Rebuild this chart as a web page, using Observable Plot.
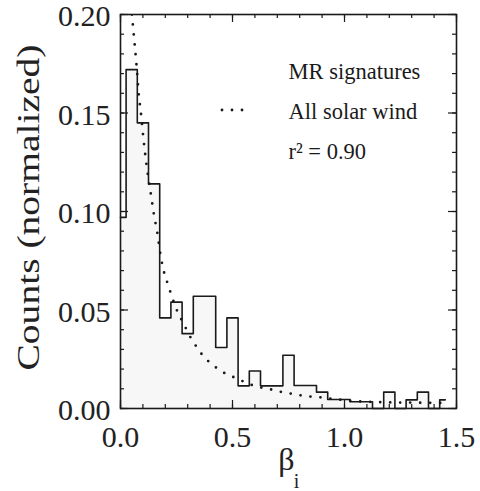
<!DOCTYPE html>
<html><head><meta charset="utf-8">
<script src="https://cdn.jsdelivr.net/npm/d3@7"></script>
<script src="https://cdn.jsdelivr.net/npm/@observablehq/plot@0.6"></script>
<style>body{margin:0;background:#fff}svg{display:block}</style>
</head><body><div id="chart"></div>
<script>
// MR signatures histogram (bin centres, normalized counts)
const binCenters = [0.00,0.05,0.10,0.15,0.20,0.25,0.30,0.35,0.40,0.45,0.50,0.55,0.60,0.65,0.70,0.75,0.80,0.85,0.90,0.95,1.00,1.05,1.10,1.15,1.20,1.25,1.30,1.35,1.40,1.45];
const mrCounts   = [0.097,0.172,0.145,0.114,0.046,0.054,0.038,0.057,0.057,0.031,0.046,0.0115,0.019,0.0115,0.0115,0.027,0.0117,0.0117,0.0083,0.0046,0.0046,0.0034,0.0034,0,0.0083,0,0.0044,0.0083,0,0.0044];
// All solar wind distribution (dotted)
const windBeta   = [0.051,0.059,0.071,0.082,0.092,0.101,0.116,0.123,0.136,0.147,0.166,0.178,0.197,0.210,0.224,0.255,0.274,0.295,0.316,0.341,0.366,0.397,0.433,0.470,0.510,0.549,0.590,0.633,0.678,0.722,0.764,0.808,0.853,0.898,0.942,0.987,1.031,1.068,1.110,1.157,1.200,1.250,1.300,1.350,1.390,1.430];
const windCounts = [0.200,0.190,0.175,0.159,0.149,0.1386,0.1237,0.118,0.1085,0.100,0.088,0.0785,0.068,0.0636,0.0587,0.049,0.0447,0.040,0.0354,0.0311,0.0271,0.0235,0.0203,0.0176,0.0157,0.0137,0.0118,0.0105,0.0095,0.0083,0.0075,0.0066,0.0060,0.0056,0.0049,0.0044,0.0038,0.0036,0.0034,0.0032,0.0031,0.0030,0.0030,0.0029,0.0029,0.0028];
const xTickLabels = [0, 0.5, 1.0, 1.5];
const yTickLabels = [0, 0.05, 0.10, 0.15, 0.20];
const xMinorTicks = d3.range(16).map(i => i / 10);
const yMinorTicks = d3.range(21).map(i => i / 100);
const legendLabels = ["MR signatures", "All solar wind", "r\u00B2 = 0.90"];
const xTitle = "\u03B2", xTitleSub = "i";
const yTitle = "Counts (normalized)";

const mr = binCenters.map((b, i) => ({b, c: mrCounts[i]}));
const wind = windBeta.map((b, i) => ({b, c: windCounts[i]}));

const W = 480, H = 491, mL = 120, mR = 24, mT = 14, mB = 83;
const fw = W - mL - mR, fh = H - mT - mB;
const font = "Liberation Serif, Times New Roman, serif";
const ink = "#1a1a1a";

const legendMarks = legendLabels.map((lab, i) =>
  Plot.text([lab], {text: d => d, frameAnchor: "top-left", textAnchor: "start", lineAnchor: "bottom",
    dx: 168, dy: 64 + 40 * i, fontSize: 22.5, fill: ink}));

const chart = Plot.plot({
  width: W, height: H,
  marginLeft: mL, marginRight: mR, marginTop: mT, marginBottom: mB,
  style: {fontFamily: font, background: "#fff", color: "#000"},
  x: {domain: [0, 1.5], axis: null},
  y: {domain: [0, 0.2], axis: null},
  marks: [
    Plot.areaY(mr, {x: "b", y: "c", curve: "step", fill: "#f7f7f7"}),
    Plot.lineY(mr, {x: "b", y: "c", curve: "step", stroke: ink, strokeWidth: 1.6}),
    Plot.line(wind, {x: "b", y: "c", curve: "monotone-x", stroke: ink, strokeWidth: 2.8,
      strokeDasharray: "0,10", strokeLinecap: "round", clip: true}),
    // inward ticks, all four sides
    Plot.tickX(xMinorTicks, {x: d => d, insetTop: fh - 4, stroke: ink, strokeWidth: 1.2}),
    Plot.tickX(xMinorTicks, {x: d => d, insetBottom: fh - 4, stroke: ink, strokeWidth: 1.2}),
    Plot.tickX(xTickLabels, {x: d => d, insetTop: fh - 8, stroke: ink, strokeWidth: 1.2}),
    Plot.tickX(xTickLabels, {x: d => d, insetBottom: fh - 8, stroke: ink, strokeWidth: 1.2}),
    Plot.tickY(yMinorTicks, {y: d => d, insetRight: fw - 4, stroke: ink, strokeWidth: 1.2}),
    Plot.tickY(yMinorTicks, {y: d => d, insetLeft: fw - 4, stroke: ink, strokeWidth: 1.2}),
    Plot.tickY(yTickLabels, {y: d => d, insetRight: fw - 8, stroke: ink, strokeWidth: 1.2}),
    Plot.tickY(yTickLabels, {y: d => d, insetLeft: fw - 8, stroke: ink, strokeWidth: 1.2}),
    Plot.frame({stroke: ink, strokeWidth: 1.6}),
    Plot.axisX(xTickLabels, {tickSize: 0, tickPadding: 17, tickFormat: d3.format(".1f"), fontSize: 30, label: null, fill: "#222"}),
    Plot.axisY(yTickLabels, {tickSize: 0, tickPadding: 10, dy: 2, tickFormat: d3.format(".2f"), fontSize: 30, label: null, fill: "#222"}),
    Plot.text([yTitle], {text: d => d, frameAnchor: "left", textAnchor: "middle", rotate: -90, dx: -92, dy: -4, fontSize: 32, fill: "#222", className: "ytitle"}),
    Plot.text([xTitle], {text: d => d, frameAnchor: "bottom", dx: -2, dy: 61, fontSize: 32, fill: "#222"}),
    Plot.text([xTitleSub], {text: d => d, frameAnchor: "bottom", dx: 8, dy: 79, fontSize: 20, fill: "#222"}),
    ...legendMarks
  ]
});
document.getElementById("chart").appendChild(chart);

// stretch the y-axis title along its length like the reference
d3.select(chart).selectAll(".ytitle text")
  .attr("textLength", 326).attr("lengthAdjust", "spacingAndGlyphs");

// dotted legend sample
d3.select(chart).append("line")
  .attr("x1", 222).attr("x2", 252).attr("y1", 110).attr("y2", 110)
  .attr("stroke", ink).attr("stroke-width", 2.8)
  .attr("stroke-dasharray", "0,10").attr("stroke-linecap", "round");
</script>
</body></html>
